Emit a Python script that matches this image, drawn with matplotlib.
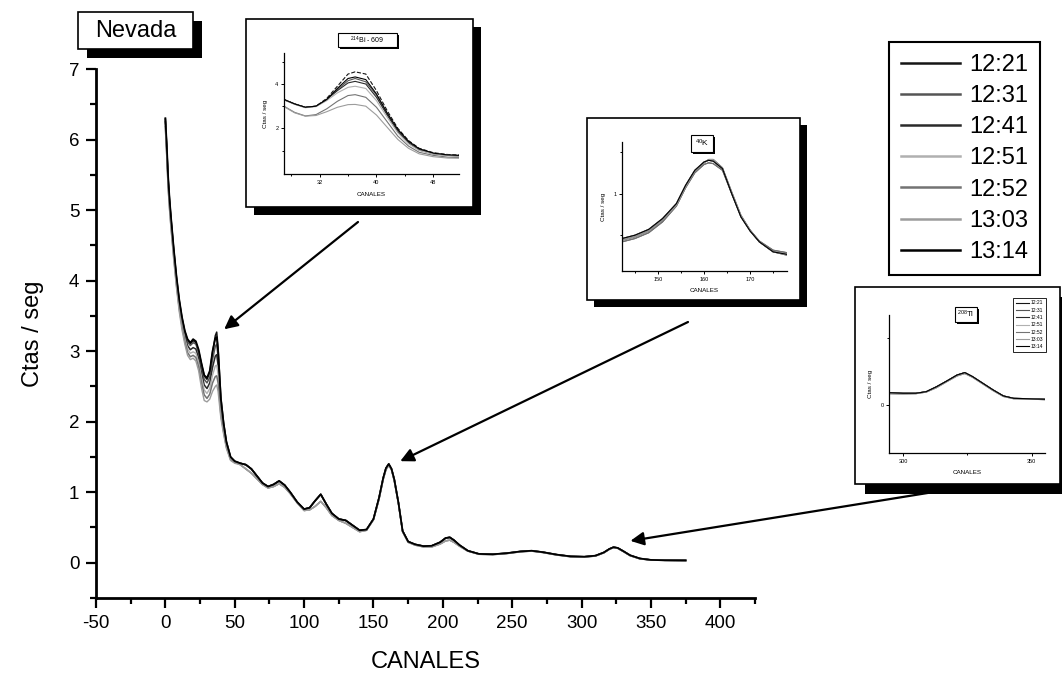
import numpy as np
import matplotlib
matplotlib.use('Agg')
import matplotlib.pyplot as plt
from matplotlib.patches import Rectangle
from matplotlib.ticker import MultipleLocator, FixedLocator

plt.rcParams['font.family'] = ['Liberation Sans', 'DejaVu Sans']
plt.rcParams['mathtext.default'] = 'regular'
plt.rcParams['axes.unicode_minus'] = False

W, H = 1062, 679

## spectrum, Nevada, 7 measurements
horas = ['12:21', '12:31', '12:41', '12:51', '12:52', '13:03', '13:14']

# first part of the spectrum (0-50 canales) changes from one measurement to another
canales_ini = [0, 1, 2, 3, 4, 6, 8, 10, 12, 14, 16, 18, 20, 22, 24, 26, 28, 30, 32, 34,
               36, 37, 38, 40, 42, 44, 47, 50]
ini_1221 = [6.3, 5.9, 5.45, 5.15, 4.9, 4.45, 4.05, 3.72, 3.47, 3.28, 3.15, 3.1, 3.15, 3.12, 3.0, 2.82,
            2.65, 2.6, 2.7, 2.98, 3.22, 3.27, 3.05, 2.35, 1.98, 1.72, 1.5, 1.44]
ini_1231 = [6.28, 5.88, 5.43, 5.13, 4.88, 4.43, 4.03, 3.7, 3.45, 3.26, 3.13, 3.08, 3.12, 3.1, 2.97, 2.78,
            2.6, 2.55, 2.63, 2.88, 3.07, 3.1, 2.92, 2.28, 1.95, 1.7, 1.49, 1.43]
ini_1241 = [6.25, 5.85, 5.4, 5.1, 4.85, 4.4, 4.0, 3.67, 3.42, 3.22, 3.08, 3.02, 3.05, 3.03, 2.9, 2.7,
            2.52, 2.47, 2.55, 2.77, 2.93, 2.95, 2.8, 2.22, 1.92, 1.68, 1.48, 1.43]
ini_1251 = [6.2, 5.8, 5.35, 5.05, 4.8, 4.36, 3.96, 3.63, 3.38, 3.18, 3.03, 2.97, 2.99, 2.97, 2.84, 2.63,
            2.45, 2.4, 2.47, 2.66, 2.79, 2.8, 2.68, 2.15, 1.88, 1.66, 1.47, 1.42]
ini_1252 = [6.18, 5.78, 5.33, 5.03, 4.78, 4.34, 3.94, 3.6, 3.35, 3.14, 2.98, 2.92, 2.94, 2.91, 2.78, 2.56,
            2.38, 2.33, 2.39, 2.55, 2.64, 2.65, 2.55, 2.1, 1.85, 1.64, 1.46, 1.42]
ini_1303 = [6.15, 5.75, 5.3, 5.0, 4.75, 4.3, 3.9, 3.56, 3.3, 3.1, 2.94, 2.88, 2.9, 2.86, 2.72, 2.48,
            2.3, 2.28, 2.32, 2.43, 2.5, 2.52, 2.43, 2.05, 1.82, 1.62, 1.45, 1.41]
ini_1314 = [6.3, 5.92, 5.47, 5.16, 4.91, 4.46, 4.06, 3.73, 3.48, 3.29, 3.17, 3.12, 3.17, 3.14, 3.02, 2.83,
            2.66, 2.62, 2.72, 3.0, 3.18, 3.2, 3.0, 2.32, 1.97, 1.71, 1.5, 1.44]

# rest of the spectrum (54-375 canales), almost the same for all
canales_fin = [54, 58, 62, 66, 70, 74, 78, 82, 86, 90, 95, 100, 104, 108, 112, 116, 120, 125, 130, 135,
               140, 145, 150, 154, 157, 159, 161, 163, 165, 168, 171, 175, 180, 186, 192, 198, 202, 205,
               208, 212, 218, 226, 236, 246, 256, 264, 272, 282, 292, 302, 310, 316, 320, 323, 326, 330,
               335, 342, 350, 360, 375]
fin_a = [1.41, 1.39, 1.33, 1.23, 1.13, 1.08, 1.11, 1.16, 1.1, 1.0, 0.86, 0.76, 0.78, 0.88, 0.97, 0.83,
         0.7, 0.62, 0.6, 0.53, 0.46, 0.47, 0.62, 0.92, 1.2, 1.34, 1.40, 1.33, 1.18, 0.85, 0.45, 0.3,
         0.26, 0.235, 0.24, 0.29, 0.35, 0.36, 0.32, 0.25, 0.17, 0.125, 0.12, 0.135, 0.16, 0.17, 0.15,
         0.115, 0.09, 0.085, 0.1, 0.145, 0.195, 0.22, 0.21, 0.165, 0.105, 0.06, 0.04, 0.035, 0.033]
fin_b = [1.39, 1.33, 1.27, 1.19, 1.11, 1.06, 1.08, 1.12, 1.07, 0.98, 0.85, 0.74, 0.75, 0.8, 0.87, 0.78,
         0.67, 0.6, 0.56, 0.5, 0.44, 0.46, 0.61, 0.9, 1.18, 1.32, 1.38, 1.32, 1.16, 0.84, 0.44, 0.29,
         0.25, 0.225, 0.225, 0.265, 0.31, 0.32, 0.29, 0.235, 0.165, 0.12, 0.115, 0.13, 0.155, 0.165, 0.145,
         0.11, 0.085, 0.08, 0.095, 0.14, 0.19, 0.215, 0.205, 0.16, 0.1, 0.055, 0.038, 0.033, 0.03]

inicios = [ini_1221, ini_1231, ini_1241, ini_1251, ini_1252, ini_1303, ini_1314]
finales = [fin_a, fin_b, fin_a, fin_b, fin_a, fin_b, fin_a]

## inset 214Bi - 609
bi_x = [27, 28.5, 30, 31.5, 33, 34.5, 36, 37, 38.5, 40, 41.5, 43, 44.5, 46, 48, 50, 51.6]
bi_1221 = [3.3, 3.1, 2.95, 3.0, 3.35, 3.9, 4.45, 4.55, 4.45, 3.7, 2.8, 2.0, 1.45, 1.1, 0.9, 0.82, 0.8]
bi_1231 = [3.3, 3.1, 2.95, 3.0, 3.3, 3.75, 4.15, 4.25, 4.1, 3.5, 2.65, 1.9, 1.4, 1.05, 0.88, 0.8, 0.78]
bi_1241 = [3.3, 3.1, 2.95, 3.0, 3.3, 3.7, 4.05, 4.12, 4.0, 3.4, 2.6, 1.85, 1.35, 1.02, 0.85, 0.78, 0.75]
bi_1251 = [3.28, 3.08, 2.93, 2.98, 3.25, 3.6, 3.85, 3.9, 3.8, 3.25, 2.5, 1.8, 1.3, 1.0, 0.85, 0.78, 0.75]
bi_1252 = [3.0, 2.72, 2.56, 2.62, 2.88, 3.22, 3.48, 3.52, 3.4, 2.95, 2.3, 1.65, 1.2, 0.92, 0.78, 0.7, 0.68]
bi_1303 = [2.98, 2.7, 2.55, 2.58, 2.75, 2.95, 3.07, 3.08, 3.0, 2.6, 2.05, 1.5, 1.1, 0.85, 0.72, 0.66, 0.65]
bi_1314 = [3.3, 3.1, 2.95, 3.0, 3.3, 3.8, 4.25, 4.32, 4.2, 3.55, 2.7, 1.95, 1.42, 1.08, 0.88, 0.8, 0.78]
bi_series = [bi_1221, bi_1231, bi_1241, bi_1251, bi_1252, bi_1303, bi_1314]

## inset 40K
k_x = [142.2, 145, 148, 151, 154, 156, 158, 160, 161, 162, 164, 166, 168, 170, 172, 175, 178]
k_a = [0.46, 0.5, 0.57, 0.7, 0.88, 1.1, 1.28, 1.38, 1.40, 1.39, 1.3, 1.0, 0.72, 0.55, 0.42, 0.3, 0.27]
k_b = [0.42, 0.46, 0.53, 0.66, 0.85, 1.07, 1.25, 1.35, 1.37, 1.36, 1.28, 1.0, 0.73, 0.56, 0.43, 0.32, 0.29]
k_c = [0.44, 0.48, 0.55, 0.68, 0.86, 1.08, 1.27, 1.37, 1.41, 1.41, 1.31, 1.02, 0.74, 0.56, 0.42, 0.3, 0.26]
k_series = [k_a, k_b, k_c, k_a, k_b, k_c, k_a]

## inset 208Tl
tl_x = [294.5, 300, 305, 309, 313, 317, 321, 324, 327, 331, 335, 339, 343, 347, 351, 355]
tl_a = [0.092, 0.088, 0.088, 0.1, 0.137, 0.18, 0.225, 0.243, 0.213, 0.163, 0.113, 0.068, 0.05, 0.048,
        0.045, 0.043]
tl_b = [0.085, 0.083, 0.085, 0.097, 0.13, 0.175, 0.218, 0.236, 0.208, 0.158, 0.108, 0.064, 0.047, 0.045,
        0.043, 0.04]
tl_series = [tl_a, tl_b, tl_a, tl_b, tl_a, tl_b, tl_a]

colores = ['#151515', '#555555', '#2a2a2a', '#b0b0b0', '#737373', '#9c9c9c', '#000000']
grosores = [1.1, 1.1, 1.1, 1.0, 1.1, 1.0, 1.3]


def caja(l, t, r, b):
    # pixel box (from top left) -> figure fraction rect
    return [l / W, 1 - b / H, (r - l) / W, (b - t) / H]


def recuadro(fig, l, t, r, b, d, z, lw=1.2):
    # white framed box with a black shadow, Origin style
    fig.add_artist(Rectangle(((l + d) / W, 1 - (b + d) / H), (r - l) / W, (b - t) / H,
                             transform=fig.transFigure, fc='black', ec='none', zorder=z))
    fig.add_artist(Rectangle((l / W, 1 - b / H), (r - l) / W, (b - t) / H,
                             transform=fig.transFigure, fc='white', ec='black', lw=lw, zorder=z + 0.1))


def estilo_inset(ax, lw=0.9):
    for s in ['top', 'right']:
        ax.spines[s].set_visible(False)
    for s in ['left', 'bottom']:
        ax.spines[s].set_linewidth(lw)
    ax.set_facecolor('none')
    ax.tick_params(which='major', direction='out', length=2.5, width=0.7, labelsize=4, pad=1.5)
    ax.tick_params(which='minor', direction='out', length=1.5, width=0.7)
    ax.set_xlabel('CANALES', fontsize=4.5, labelpad=5)
    ax.set_ylabel('Ctas / seg', fontsize=4.5, labelpad=5)


fig = plt.figure(figsize=(W / 100, H / 100), dpi=100)

ax = fig.add_axes(caja(96, 69, 755, 598))
ax.set_zorder(0)
for i in range(len(horas)):
    x = canales_ini + canales_fin
    y = inicios[i] + finales[i]
    ax.plot(x, y, color=colores[i], lw=grosores[i], label=horas[i])

ax.set_xlim(-50, 425)
ax.set_ylim(-0.5, 7)
ax.xaxis.set_major_locator(FixedLocator(np.arange(-50, 401, 50)))
ax.xaxis.set_minor_locator(MultipleLocator(25))
ax.yaxis.set_major_locator(FixedLocator(np.arange(0, 8, 1)))
ax.yaxis.set_minor_locator(MultipleLocator(0.5))
for s in ['top', 'right']:
    ax.spines[s].set_visible(False)
for s in ['left', 'bottom']:
    ax.spines[s].set_linewidth(2)
ax.tick_params(which='major', direction='out', length=7, width=1.6, labelsize=13.5, pad=5)
ax.tick_params(which='minor', direction='out', length=4, width=1.6)
ax.set_xlabel('CANALES', fontsize=17, labelpad=14)
ax.set_ylabel('Ctas / seg', fontsize=17, labelpad=18)

# arrows from the insets to the peaks
flecha = dict(arrowstyle='-|>', color='black', lw=1.6, mutation_scale=20, shrinkA=0, shrinkB=0)
ax.annotate('', xy=(42.4, 3.31), xycoords='data', xytext=(358, H - 222),
            textcoords='figure pixels', arrowprops=flecha)
ax.annotate('', xy=(169.3, 1.44), xycoords='data', xytext=(688, H - 322),
            textcoords='figure pixels', arrowprops=flecha)
ax.annotate('', xy=(335.2, 0.31), xycoords='data', xytext=(940, H - 491),
            textcoords='figure pixels', arrowprops=flecha)

# main legend
leg = fig.legend(loc='upper left', bbox_to_anchor=(889 / W, 1 - 42 / H), fontsize=17,
                 frameon=True, fancybox=False, shadow=False, framealpha=1, edgecolor='black',
                 borderaxespad=0, borderpad=0.5, handlelength=2.5, handletextpad=0.4,
                 labelspacing=0.39)
leg.get_frame().set_linewidth(1.5)
for h in leg.get_lines():
    h.set_linewidth(1.8)

# Nevada label
recuadro(fig, 78, 12, 193, 49, 9, 2)
fig.text(135.5 / W, 1 - 31 / H, 'Nevada', fontsize=17, ha='center', va='center', zorder=3)

# inset 214Bi
recuadro(fig, 246, 19, 473, 207, 8, 4)
ax1 = fig.add_axes(caja(284, 53, 459, 174))
ax1.set_zorder(4.5)
for i in range(len(horas)):
    ax1.plot(bi_x, bi_series[i], color=colores[i], lw=0.8, ls='--' if i == 0 else '-')
ax1.set_xlim(27, 51.6)
ax1.set_ylim(-0.06, 5.4)
ax1.xaxis.set_major_locator(FixedLocator([32, 40, 48]))
ax1.xaxis.set_minor_locator(FixedLocator([28, 36, 44]))
ax1.yaxis.set_major_locator(FixedLocator([2, 4]))
ax1.yaxis.set_minor_locator(FixedLocator([1, 3, 5]))
estilo_inset(ax1)
recuadro(fig, 338, 33, 397, 47, 2, 4.6, lw=0.8)
fig.text(367.5 / W, 1 - 40 / H, r'$^{214}$Bi - 609', fontsize=5, ha='center', va='center', zorder=4.8)

# inset 40K
recuadro(fig, 587, 118, 800, 300, 7, 6)
ax2 = fig.add_axes(caja(622, 142, 787, 271))
ax2.set_zorder(6.5)
for i in range(len(horas)):
    ax2.plot(k_x, k_series[i], color=colores[i], lw=0.8)
ax2.set_xlim(142.2, 178)
ax2.set_ylim(0.07, 1.62)
ax2.xaxis.set_major_locator(FixedLocator([150, 160, 170]))
ax2.xaxis.set_minor_locator(FixedLocator([145, 155, 165, 175]))
ax2.yaxis.set_major_locator(FixedLocator([1]))
ax2.yaxis.set_minor_locator(FixedLocator([0.5, 1.5]))
estilo_inset(ax2)
recuadro(fig, 691, 135, 713, 152, 2, 6.6, lw=0.8)
fig.text(702 / W, 1 - 143.5 / H, r'$^{40}$K', fontsize=6, ha='center', va='center', zorder=6.8)

# inset 208Tl
recuadro(fig, 855, 287, 1060, 484, 10, 8)
ax3 = fig.add_axes(caja(889, 315, 1045, 453))
ax3.set_zorder(8.5)
for i in range(len(horas)):
    ax3.plot(tl_x, tl_series[i], color=colores[i], lw=0.8, label=horas[i])
ax3.set_xlim(294.5, 355.2)
ax3.set_ylim(-0.36, 0.675)
ax3.xaxis.set_major_locator(FixedLocator([300, 350]))
ax3.xaxis.set_minor_locator(FixedLocator([325]))
ax3.yaxis.set_major_locator(FixedLocator([0]))
ax3.yaxis.set_minor_locator(FixedLocator([0.5]))
estilo_inset(ax3)
leg3 = ax3.legend(loc='upper left', bbox_to_anchor=(1013 / W, 1 - 298 / H), bbox_transform=fig.transFigure,
                  fontsize=3.6, frameon=True, fancybox=False, framealpha=1, edgecolor='black',
                  borderaxespad=0, borderpad=0.5, handlelength=2.6, handletextpad=0.5, labelspacing=0.45)
leg3.get_frame().set_linewidth(0.6)
recuadro(fig, 955, 307, 977, 322, 2, 8.6, lw=0.8)
fig.text(966 / W, 1 - 314.5 / H, r'$^{208}$Tl', fontsize=5.5, ha='center', va='center', zorder=8.8)

fig.savefig('out.png', dpi=100)
